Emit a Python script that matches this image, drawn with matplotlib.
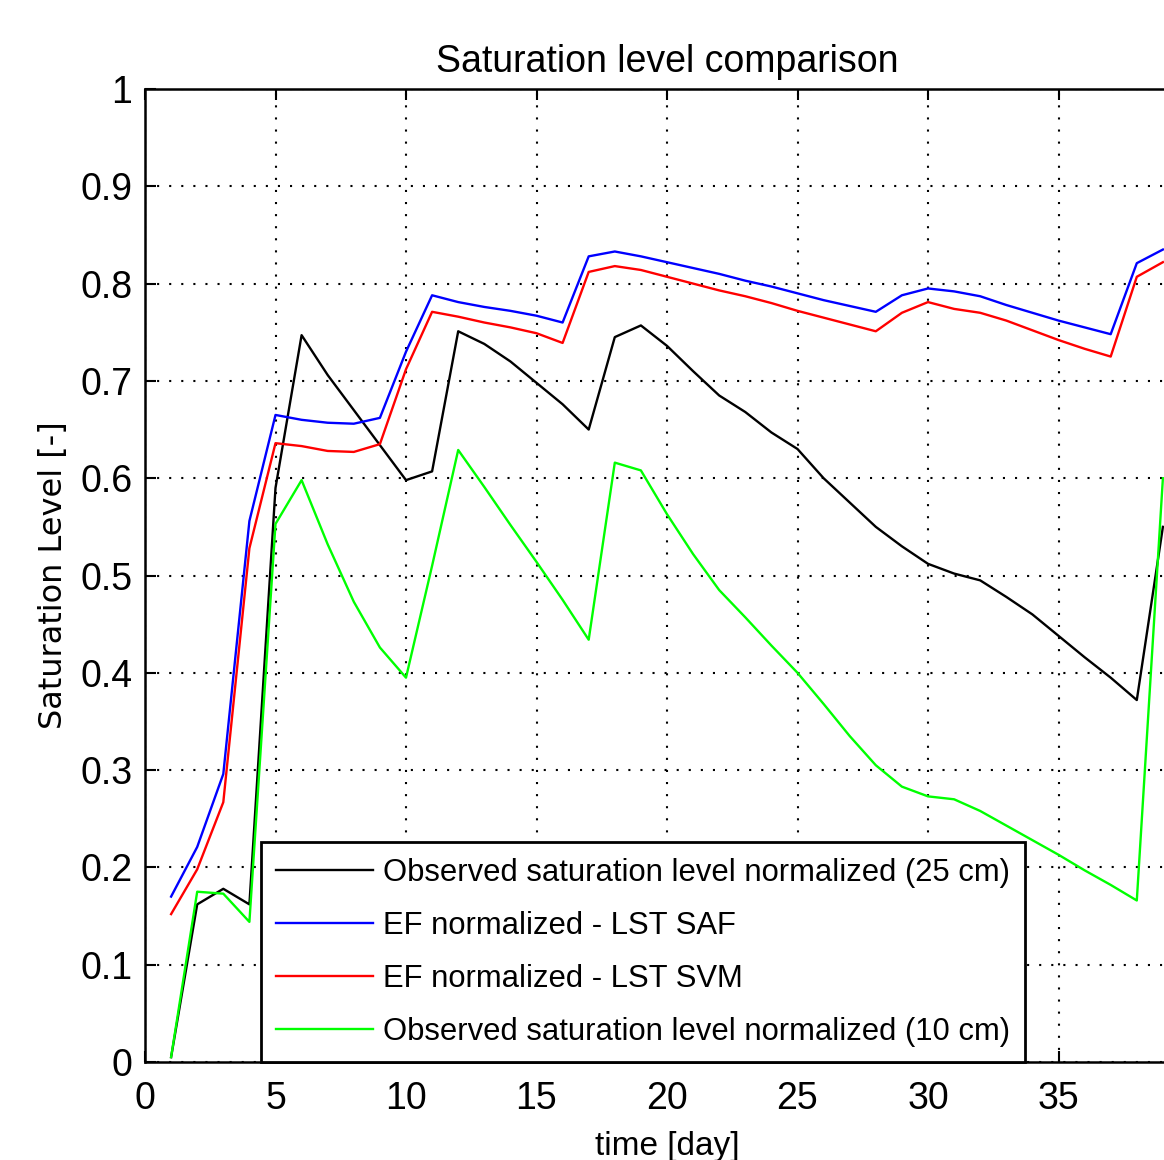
import matplotlib
matplotlib.use("Agg")
import matplotlib.pyplot as plt
from matplotlib import font_manager
from matplotlib.ticker import FuncFormatter

# ---------------- data ----------------
days = list(range(1, 40))

obs_25cm = [0.005, 0.162, 0.178, 0.162, 0.59, 0.747, 0.706, 0.67, 0.634, 0.598,
            0.607, 0.751, 0.738, 0.72, 0.698, 0.676, 0.650, 0.745, 0.757, 0.736,
            0.71, 0.685, 0.668, 0.647, 0.63, 0.60, 0.575, 0.55, 0.53, 0.512,
            0.502, 0.495, 0.478, 0.46, 0.438, 0.416, 0.395, 0.372, 0.55]

ef_saf = [0.17, 0.221, 0.296, 0.556, 0.665, 0.66, 0.657, 0.656, 0.662, 0.73,
          0.788, 0.781, 0.776, 0.772, 0.767, 0.76, 0.828, 0.833, 0.828, 0.822,
          0.816, 0.81, 0.803, 0.797, 0.79, 0.783, 0.777, 0.771, 0.788, 0.795,
          0.792, 0.787, 0.778, 0.77, 0.762, 0.755, 0.748, 0.821, 0.835]

ef_svm = [0.152, 0.198, 0.267, 0.528, 0.636, 0.633, 0.628, 0.627, 0.635, 0.712,
          0.771, 0.766, 0.76, 0.755, 0.749, 0.739, 0.812, 0.818, 0.814, 0.807,
          0.80, 0.793, 0.787, 0.78, 0.772, 0.765, 0.758, 0.751, 0.77, 0.781,
          0.774, 0.77, 0.762, 0.752, 0.742, 0.733, 0.725, 0.807, 0.822]

obs_10cm = [0.005, 0.175, 0.173, 0.144, 0.553, 0.598, 0.532, 0.473, 0.426, 0.395,
            0.51, 0.629, 0.591, 0.552, 0.514, 0.475, 0.434, 0.616, 0.608, 0.563,
            0.522, 0.485, 0.457, 0.428, 0.40, 0.368, 0.335, 0.305, 0.283, 0.273,
            0.27, 0.258, 0.243, 0.228, 0.213, 0.197, 0.182, 0.166, 0.60]

series_labels = ["Observed saturation level normalized (25 cm)",
                 "EF normalized - LST SAF",
                 "EF normalized - LST SVM",
                 "Observed saturation level normalized (10 cm)"]
series_colors = ["#000000", "#0000ff", "#ff0000", "#00ff00"]

x_ticks = [0, 5, 10, 15, 20, 25, 30, 35]
y_ticks = [0, 0.1, 0.2, 0.3, 0.4, 0.5, 0.6, 0.7, 0.8, 0.9, 1.0]

title_text = "Saturation level comparison"
x_label = "time [day]"
y_label = "Saturation Level [-]"


def pick_font(candidates):
    for name in candidates:
        try:
            font_manager.findfont(font_manager.FontProperties(family=name),
                                  fallback_to_default=False)
            return name
        except Exception:
            continue
    return "DejaVu Sans"


narrow = pick_font(["Liberation Sans Narrow", "Arial Narrow", "Liberation Sans"])
wide = "DejaVu Sans"

plt.rcParams["font.family"] = [narrow, "DejaVu Sans"]

fig = plt.figure(figsize=(11.64, 11.60), dpi=100)
# axes: x from 0 (px 145) to 40 (px ~1189, beyond figure edge), y 0 (px 1062) .. 1 (px 89)
ax = fig.add_axes([145 / 1164, 1 - 1062 / 1160, (1189 - 145) / 1164, (1062 - 89) / 1160])

all_series = [obs_25cm, ef_saf, ef_svm, obs_10cm]
for vals, lab, col in zip(all_series, series_labels, series_colors):
    ax.plot(days, vals, color=col, lw=1.7, label=lab)

ax.set_xlim(0, 40)
ax.set_ylim(0, 1)
ax.set_xticks(x_ticks)
ax.set_yticks(y_ticks)
ax.yaxis.set_major_formatter(FuncFormatter(lambda v, p: f"{v:g}"))

ax.grid(True, color="black", linestyle=(0, (1, 4.8)), linewidth=1.5)
ax.tick_params(direction="in", length=8, width=1.5, top=True, right=True,
               labelsize=27)
ax.tick_params(axis="x", pad=14)
ax.tick_params(axis="y", pad=9)
for s in ax.spines.values():
    s.set_linewidth(1.8)

ax.set_title(title_text, fontsize=27, pad=12)
ax.set_xlabel(x_label, fontsize=24, labelpad=10)
ax.set_ylabel(y_label, fontsize=23, labelpad=8, family=[wide])

leg = ax.legend(loc="lower left", bbox_to_anchor=(116 / 1044, 0.0), borderaxespad=0,
                fontsize=22.3, frameon=True, fancybox=False, framealpha=1,
                edgecolor="black", handlelength=3.1, handletextpad=0.33,
                labelspacing=0.74, borderpad=0.5)
leg.get_frame().set_linewidth(2)

fig.savefig("out.png", dpi=100)
